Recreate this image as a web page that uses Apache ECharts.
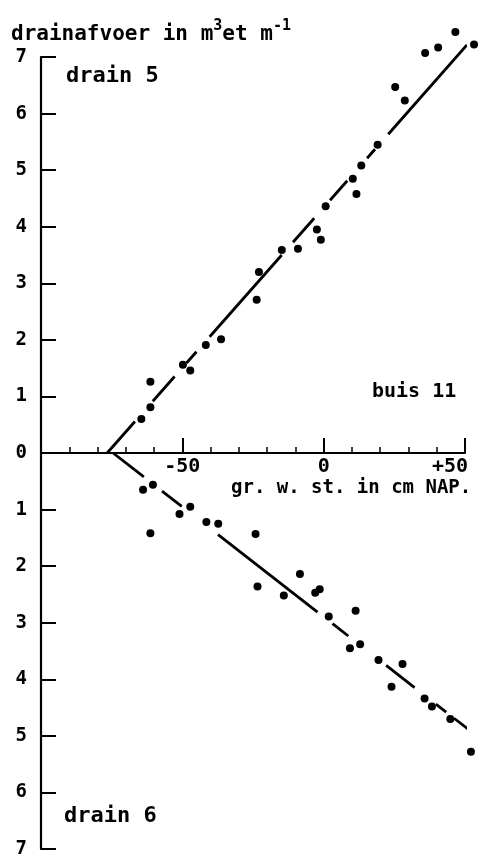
<!DOCTYPE html>
<html><head><meta charset="utf-8">
<script src="https://cdn.jsdelivr.net/npm/echarts@6/dist/echarts.min.js"></script>
<style>html,body{margin:0;padding:0;background:#fff}#c{width:481px;height:858px}</style>
</head><body><div id="c"></div>
<script>
// drain 5 (upper half, positive)
const drain5X = [-64.5, -61.3, -61.3, -49.8, -47.2, -41.7, -36.3, -23.7, -22.9, -14.8, -9.1, -2.4, -1.0, 0.7, 10.3, 11.6, 13.3, 19.1, 25.3, 28.7, 35.9, 40.5, 46.6, 53.2];
const drain5Y = [0.60, 0.81, 1.26, 1.56, 1.46, 1.91, 2.01, 2.71, 3.20, 3.59, 3.61, 3.95, 3.77, 4.36, 4.85, 4.58, 5.08, 5.45, 6.47, 6.23, 7.07, 7.17, 7.44, 7.22];
// drain 6 (lower half, drawn downward as negative)
const drain6X = [-63.9, -60.4, -61.3, -51.0, -47.2, -41.5, -37.3, -24.1, -23.4, -14.1, -8.4, -3.0, -1.4, 1.8, 11.3, 9.3, 12.9, 19.4, 27.9, 24.0, 35.7, 38.3, 44.8, 52.1];
const drain6Y = [-0.65, -0.56, -1.42, -1.08, -0.95, -1.22, -1.25, -1.43, -2.36, -2.52, -2.14, -2.47, -2.41, -2.89, -2.79, -3.45, -3.38, -3.66, -3.73, -4.13, -4.34, -4.48, -4.70, -5.28];
// fitted lines (end points)
const fit5X = [-76.6, 51.0];
const fit5Y = [0, 7.23];
const fit6X = [-74.5, 53.1];
const fit6Y = [0, -4.96];
// axis tick labels
const xTickValues = [-50, 0, 50];
const xTickLabels = ['-50', '0', '+50'];

const FONT = 'DejaVu Sans Mono';
const zip = (xs, ys) => xs.map((x, i) => [x, ys[i]]);

const chart = echarts.init(document.getElementById('c'), null, {renderer: 'canvas'});
const option = {
  backgroundColor: '#fff',
  animation: false,
  title: {
    text: '{n|drainafvoer in m}{s|3}{n|et m}{s|-1}',
    left: 11, top: 19, padding: 0,
    textStyle: {
      fontFamily: FONT, fontSize: 21, fontWeight: 'bold', color: '#000',
      rich: {
        n: { fontFamily: FONT, fontSize: 21, fontWeight: 'bold', color: '#000', lineHeight: 26, verticalAlign: 'bottom' },
        s: { fontFamily: FONT, fontSize: 15, fontWeight: 'bold', color: '#000', lineHeight: 21, verticalAlign: 'top' }
      }
    }
  },
  grid: { left: 41, right: 16, top: 57, bottom: 9, containLabel: false, outerBoundsMode: 'none' },
  xAxis: {
    type: 'value', min: -100, max: 50, interval: 50,
    axisLine: { show: true, onZero: true, lineStyle: { color: '#000', width: 2 } },
    axisTick: { show: true, inside: true, length: 15, lineStyle: { color: '#000', width: 2 } },
    minorTick: { show: true, splitNumber: 5, length: 6, lineStyle: { color: '#000', width: 1.5 } },
    splitLine: { show: false }, minorSplitLine: { show: false },
    axisLabel: { show: false }
  },
  yAxis: {
    type: 'value', min: -7, max: 7, interval: 1,
    axisLine: { show: true, onZero: false, lineStyle: { color: '#000', width: 2.2 } },
    axisTick: { show: true, inside: true, length: 15, lineStyle: { color: '#000', width: 2 } },
    splitLine: { show: false },
    axisLabel: {
      show: true, margin: 14, color: '#000', fontFamily: FONT, fontSize: 19, fontWeight: 'bold',
      formatter: v => String(Math.abs(v))
    }
  },
  graphic: [
    { id: 't5', type: 'text', left: 66, top: 65, style: { text: 'drain 5', font: 'bold 22px "' + FONT + '"', fill: '#000' } },
    { id: 'tb', type: 'text', left: 372, top: 382, style: { text: 'buis 11', font: 'bold 20px "' + FONT + '"', fill: '#000' } },
    { id: 'tg', type: 'text', left: 231, top: 479, style: { text: 'gr. w. st. in cm NAP.', font: 'bold 19px "' + FONT + '"', fill: '#000' } },
    { id: 't6', type: 'text', left: 64, top: 805, style: { text: 'drain 6', font: 'bold 22px "' + FONT + '"', fill: '#000' } }
  ],
  series: [
    {
      type: 'line', data: zip(fit5X, fit5Y), showSymbol: false, symbol: 'none', clip: false,
      lineStyle: { color: '#000', width: 2.8, opacity: 1, type: [42, 27, 33, 18, 15, 20, 109, 17, 32, 24, 26, 30, 12, 20, 119], cap: 'butt' },
      z: 2
    },
    {
      type: 'line', data: zip(fit6X, fit6Y), showSymbol: false, symbol: 'none', clip: false,
      lineStyle: { color: '#000', width: 2.8, opacity: 1, type: [39, 23, 25, 46, 126, 19, 20, 48, 36, 27, 13, 10, 25], cap: 'butt' },
      z: 2
    },
    {
      type: 'scatter', data: zip(drain5X, drain5Y), symbol: 'circle', symbolSize: 8, clip: false,
      itemStyle: { color: '#000', opacity: 1 }, z: 3
    },
    {
      type: 'scatter', data: zip(drain6X, drain6Y), symbol: 'circle', symbolSize: 8, clip: false,
      itemStyle: { color: '#000', opacity: 1 }, z: 3
    }
  ]
};
chart.setOption(option);

// x-axis tick labels placed under the zero line, positioned through the axis scale
const labelGraphics = xTickValues.map((v, i) => {
  const p = chart.convertToPixel({ xAxisIndex: 0, yAxisIndex: 0 }, [v, 0]);
  const isLast = i === xTickValues.length - 1;
  return {
    id: 'xl' + i, type: 'text', x: isLast ? p[0] + 3 : p[0], y: p[1] + 4,
    style: {
      text: xTickLabels[i], font: 'bold 20px "' + FONT + '"', fill: '#000',
      textAlign: isLast ? 'right' : 'center', textVerticalAlign: 'top'
    }
  };
});
chart.setOption({ graphic: labelGraphics });
</script>
</body></html>
